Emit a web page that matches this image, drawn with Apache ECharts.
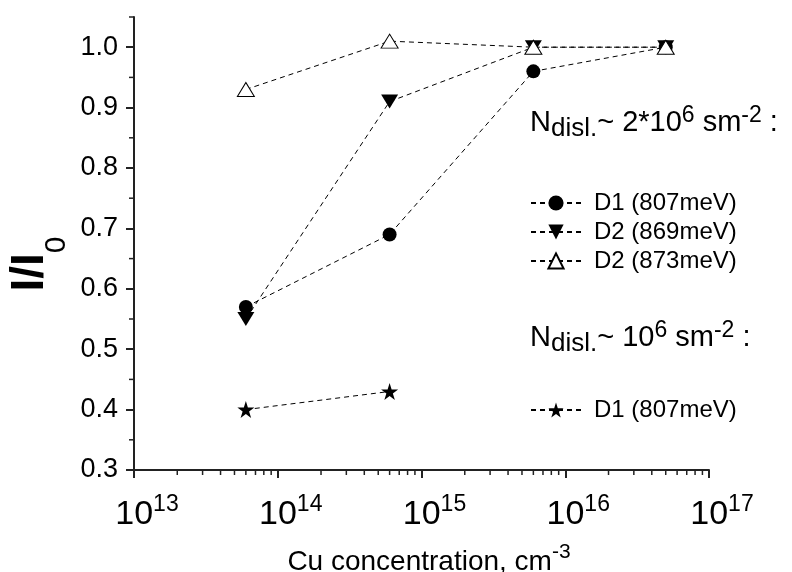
<!DOCTYPE html>
<html>
<head>
<meta charset="utf-8">
<title>I/I0 vs Cu concentration</title>
<script src="https://cdn.jsdelivr.net/npm/echarts@6/dist/echarts.min.js"></script>
<style>
html, body { margin: 0; padding: 0; background: #fff; }
#main { width: 792px; height: 572px; }
</style>
</head>
<body>
<div id="main"></div>
<script>
// data
var conc = [6e13, 6e14, 6e15, 5e16];          // Cu concentration, cm-3
var d1_807 = [0.57, 0.69, 0.96, 1.00];        // N ~ 2*10^6, D1 circles
var d2_869 = [0.55, 0.91, 1.00, 1.00];        // N ~ 2*10^6, D2 filled triangles
var d2_873 = [0.93, 1.01, 1.00, 1.00];        // N ~ 2*10^6, D2 open triangles
var concLow = [6e13, 6e14];
var d1_807_low = [0.40, 0.43];                // N ~ 10^6, D1 stars

var yMajor = [0.3, 0.4, 0.5, 0.6, 0.7, 0.8, 0.9, 1.0];
var yMinor = [0.35, 0.45, 0.55, 0.65, 0.75, 0.85, 0.95, 1.05];
var xDecades = [13, 14, 15, 16];

var FONT = 'Liberation Sans';
var INK = '#000';
var AXIS = '#222';
var STAR = 'path://M50,2 L61.8,38.2 L99.8,38.2 L69,60.5 L80.9,96.7 L50,74.3 L19.1,96.7 L31,60.5 L0.2,38.2 L38.2,38.2 Z';

function pairs(xs, ys) {
    return xs.map(function (x, i) { return [x, ys[i]]; });
}

// minor tick positions (x: 2..9 per decade, y: half steps)
var minorTicks = [];
xDecades.forEach(function (d) {
    for (var k = 2; k <= 9; k++) minorTicks.push([k * Math.pow(10, d), 0.3, 0]);
});
yMinor.forEach(function (v) { minorTicks.push([1e13, v, 1]); });

var chart = echarts.init(document.getElementById('main'));

var dashed = { color: INK, width: 1, type: [5, 4] };

var titleRich = {
    n: { fontSize: 29, fontWeight: 'normal', fontFamily: FONT, color: INK, lineHeight: 38 },
    sub: { fontSize: 26, fontWeight: 'normal', fontFamily: FONT, color: INK, lineHeight: 26, verticalAlign: 'bottom' },
    sup: { fontSize: 23, fontWeight: 'normal', fontFamily: FONT, color: INK, lineHeight: 23, verticalAlign: 'top' }
};

var legendText = { fontSize: 24, fontFamily: FONT, color: INK, padding: [0, 0, 0, 8] };

var option = {
    animation: false,
    backgroundColor: '#fff',
    textStyle: { fontFamily: FONT, color: INK },
    grid: { left: 134, right: 83, top: 17, bottom: 102, containLabel: false, outerBoundsMode: 'none' },
    title: [
        {
            text: '{n|N}{sub|disl.}{n|~ 2*10}{sup|6}{n| sm}{sup|-2}{n| :}',
            left: 530, top: 104, padding: 0,
            textStyle: { fontWeight: 'normal', rich: titleRich }
        },
        {
            text: '{n|N}{sub|disl.}{n|~ 10}{sup|6}{n| sm}{sup|-2}{n| :}',
            left: 530, top: 319, padding: 0,
            textStyle: { fontWeight: 'normal', rich: titleRich }
        }
    ],
    legend: [
        {
            data: ['D1 (807meV)', 'D2 (869meV)', 'D2 (873meV)'],
            orient: 'vertical', left: 530, top: 191, padding: 0,
            itemWidth: 50, itemHeight: 19, itemGap: 5,
            selectedMode: false,
            textStyle: legendText
        },
        {
            data: ['D1 (807meV) low'],
            formatter: function () { return 'D1 (807meV)'; },
            orient: 'vertical', left: 530, top: 398, padding: 0,
            itemWidth: 50, itemHeight: 19, itemGap: 5,
            selectedMode: false,
            textStyle: legendText
        }
    ],
    xAxis: {
        type: 'log',
        logBase: 10,
        min: 1e13,
        max: 1e17,
        splitLine: { show: false },
        axisLine: { lineStyle: { color: AXIS, width: 2 } },
        axisTick: { length: 8, lineStyle: { color: AXIS, width: 2 } },
        axisLabel: {
            margin: 23,
            padding: [0, 0, 0, 26],
            formatter: function (v) {
                return '{n|10}{s|' + Math.round(Math.log10(v)) + '}';
            },
            rich: {
                n: { fontSize: 34, fontFamily: FONT, color: INK, lineHeight: 44 },
                s: { fontSize: 23, fontFamily: FONT, color: INK, lineHeight: 23, verticalAlign: 'top' }
            }
        },
        name: '{a|Cu concentration, cm}{s|-3}',
        nameLocation: 'middle',
        nameGap: 72,
        nameTextStyle: {
            padding: [0, 0, 0, 15],
            rich: {
                a: { fontSize: 28, fontFamily: FONT, color: INK, lineHeight: 34, verticalAlign: 'bottom' },
                s: { fontSize: 21, fontFamily: FONT, color: INK, lineHeight: 21, verticalAlign: 'top' }
            }
        }
    },
    yAxis: {
        type: 'value',
        min: 0.3,
        max: 1.05,
        interval: 0.1,
        splitLine: { show: false },
        axisLine: { show: true, lineStyle: { color: AXIS, width: 2 } },
        axisTick: { show: true, length: 8, customValues: yMajor, lineStyle: { color: AXIS, width: 2 } },
        axisLabel: {
            customValues: yMajor,
            margin: 16,
            fontSize: 27,
            fontFamily: FONT,
            color: INK,
            formatter: function (v) { return v.toFixed(1); }
        }
    },
    graphic: [
        {
            type: 'text',
            x: 57,
            y: 264,
            rotation: Math.PI / 2,
            style: {
                text: '{a|I/I}{b|0}',
                align: 'center',
                verticalAlign: 'middle',
                rich: {
                    a: { fontSize: 46, fontWeight: 'bold', fontFamily: FONT, fill: INK, lineHeight: 46, verticalAlign: 'top' },
                    b: { fontSize: 30, fontFamily: FONT, fill: INK, lineHeight: 100, verticalAlign: 'middle' }
                }
            }
        }
    ],
    series: [
        {
            name: 'D1 (807meV)',
            type: 'line',
            data: pairs(conc, d1_807),
            symbol: 'circle',
            symbolSize: 14,
            itemStyle: { color: INK },
            lineStyle: dashed
        },
        {
            name: 'D2 (869meV)',
            type: 'line',
            data: pairs(conc, d2_869),
            symbol: 'triangle',
            symbolRotate: 180,
            symbolSize: [17, 14],
            itemStyle: { color: INK },
            lineStyle: dashed
        },
        {
            name: 'D2 (873meV)',
            type: 'line',
            data: pairs(conc, d2_873),
            symbol: 'triangle',
            symbolSize: [17, 14],
            itemStyle: { color: '#fff', borderColor: INK, borderWidth: 1 },
            lineStyle: dashed
        },
        {
            name: 'D1 (807meV) low',
            type: 'line',
            data: pairs(concLow, d1_807_low),
            symbol: STAR,
            symbolSize: 17,
            itemStyle: { color: INK },
            lineStyle: dashed
        },
        {
            // minor ticks on both axes
            name: 'minor',
            type: 'custom',
            silent: true,
            clip: false,
            data: minorTicks,
            renderItem: function (params, api) {
                var p = api.coord([api.value(0), api.value(1)]);
                var isY = api.value(2) === 1;
                return {
                    type: 'line',
                    shape: isY
                        ? { x1: p[0] - 5, y1: p[1], x2: p[0], y2: p[1] }
                        : { x1: p[0], y1: p[1], x2: p[0], y2: p[1] + 5 },
                    style: { stroke: AXIS, lineWidth: 1.5 }
                };
            }
        }
    ]
};

chart.setOption(option);
</script>
</body>
</html>
